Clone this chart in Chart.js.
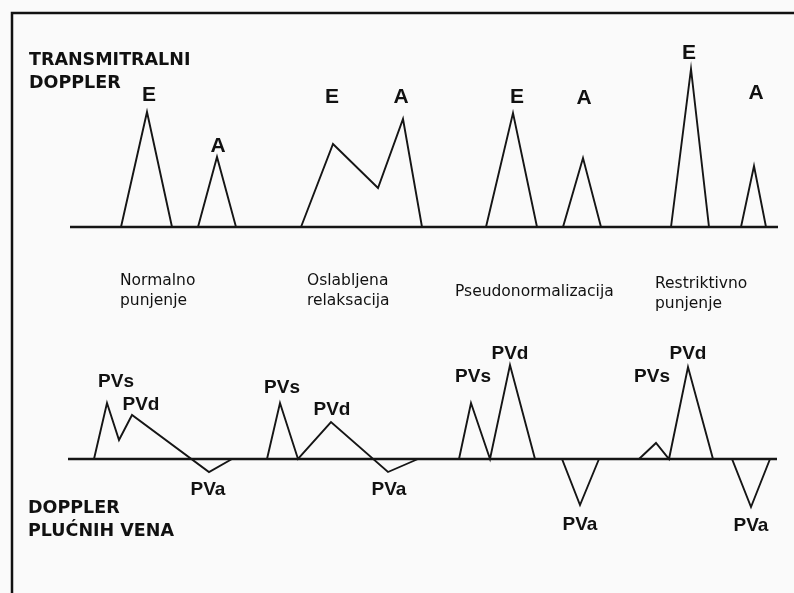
<!DOCTYPE html>
<html>
<head>
<meta charset="utf-8">
<script src="https://cdn.jsdelivr.net/npm/chart.js@4.4.1/dist/chart.umd.min.js"></script>
<style>
  html, body { margin: 0; padding: 0; background: #fafafa; }
  #wrap { position: relative; width: 794px; height: 593px; }
</style>
</head>
<body>
<div id="wrap"><canvas id="doppler" width="794" height="593"></canvas></div>
<script>
// Obrasci punjenja (redom s lijeva na desno)
const patterns = ['Normalno punjenje', 'Oslabljena relaksacija', 'Pseudonormalizacija', 'Restriktivno punjenje'];

// Transmitralni doppler: vrijeme i brzina (relativno na nultu liniju)
const normalMitralT = [121, 147, 172, 198, 217, 236];
const normalMitralV = [0, 115, 0, 0, 70, 0];
const impairedMitralT = [301, 333, 378, 403, 422];
const impairedMitralV = [0, 83, 39, 108, 0];
const pseudoMitralT = [486, 513, 537, 563, 583, 601];
const pseudoMitralV = [0, 114, 0, 0, 69, 0];
const restrictMitralT = [671, 691, 709, 741, 754, 766];
const restrictMitralV = [0, 158, 0, 0, 61, 0];

// Doppler plućnih vena
const normalVeinT = [94, 107, 119, 132, 209, 232];
const normalVeinV = [0, 56, 19, 44, -13, 0];
const impairedVeinT = [267, 280, 298, 331, 388, 418];
const impairedVeinV = [0, 56, 0, 37, -13, 0];
const pseudoVeinT = [459, 471, 490, 510, 535, 562, 580, 599];
const pseudoVeinV = [0, 56, 0, 94, 0, 0, -46, 0];
const restrictVeinT = [639, 656, 669, 688, 713, 732, 751, 770];
const restrictVeinV = [0, 16, 0, 92, 0, 0, -48, 0];

// Nulte linije (početak i kraj)
const mitralBaseT = [70, 778];
const veinBaseT = [68, 777];

// Oznake valova
const mitralLabels = ['E', 'A', 'E', 'A', 'E', 'A', 'E', 'A'];
const mitralLabelT = [149, 218, 332, 401, 517, 584, 689, 756];
const mitralLabelV = [134, 83, 132, 132, 132, 131, 176, 136];
const veinLabels = ['PVs', 'PVd', 'PVa', 'PVs', 'PVd', 'PVa', 'PVs', 'PVd', 'PVa', 'PVs', 'PVd', 'PVa'];
const veinLabelT = [116, 141, 208, 282, 332, 389, 473, 510, 580, 652, 688, 751];
const veinLabelV = [79, 56, -29, 73, 51, -29, 84, 107, -64, 84, 107, -65];

function toPoints(ts, vs) {
    return ts.map((t, i) => ({ x: t, y: vs[i] }));
}

function wave(label, ts, vs, axis) {
    return {
        label: label,
        data: toPoints(ts, vs),
        yAxisID: axis,
        borderColor: '#151515',
        borderWidth: 1.9,
        pointRadius: 0,
        tension: 0,
        fill: false
    };
}

function baseline(ts, axis) {
    return {
        label: 'baseline',
        data: toPoints(ts, ts.map(() => 0)),
        yAxisID: axis,
        borderColor: '#151515',
        borderWidth: 2.6,
        pointRadius: 0,
        fill: false
    };
}

// Okvir, naslovi i oznake
const paperPlugin = {
    id: 'paper',
    beforeDraw(chart) {
        const ctx = chart.ctx;
        ctx.save();
        ctx.fillStyle = '#fafafa';
        ctx.fillRect(0, 0, chart.width, chart.height);
        ctx.strokeStyle = '#111';
        ctx.lineWidth = 2.5;
        ctx.beginPath();
        ctx.moveTo(12, chart.height + 5);
        ctx.lineTo(12, 13);
        ctx.lineTo(chart.width + 5, 13);
        ctx.stroke();
        ctx.restore();
    },
    afterDatasetsDraw(chart) {
        const ctx = chart.ctx;
        const x = chart.scales.x;
        const yTop = chart.scales.yTop;
        const yBot = chart.scales.yBot;
        ctx.save();
        ctx.fillStyle = '#111';

        // naslovi
        ctx.textAlign = 'left';
        ctx.textBaseline = 'alphabetic';
        ctx.font = 'bold 17.5px "DejaVu Sans"';
        ctx.fillText('TRANSMITRALNI', 29, 65);
        ctx.fillText('DOPPLER', 29, 88);
        ctx.fillText('DOPPLER', 28, 513);
        ctx.fillText('PLUĆNIH VENA', 28, 536);

        // obrasci punjenja
        ctx.font = '15.5px "DejaVu Sans"';
        ctx.fillText('Normalno', 120, 285);
        ctx.fillText('punjenje', 120, 305);
        ctx.fillText('Oslabljena', 307, 285);
        ctx.fillText('relaksacija', 307, 305);
        ctx.fillText(patterns[2], 455, 296);
        ctx.fillText('Restriktivno', 655, 288);
        ctx.fillText('punjenje', 655, 308);

        // E / A
        ctx.textAlign = 'center';
        ctx.font = 'bold 21px "Liberation Sans"';
        mitralLabels.forEach((t, i) => {
            ctx.fillText(t, x.getPixelForValue(mitralLabelT[i]), yTop.getPixelForValue(mitralLabelV[i]) + 7.5);
        });

        // PVs / PVd / PVa
        ctx.font = 'bold 19px "Liberation Sans"';
        veinLabels.forEach((t, i) => {
            ctx.fillText(t, x.getPixelForValue(veinLabelT[i]), yBot.getPixelForValue(veinLabelV[i]) + 7);
        });
        ctx.restore();
    }
};

new Chart(document.getElementById('doppler'), {
    type: 'line',
    data: {
        datasets: [
            baseline(mitralBaseT, 'yTop'),
            wave(patterns[0], normalMitralT, normalMitralV, 'yTop'),
            wave(patterns[1], impairedMitralT, impairedMitralV, 'yTop'),
            wave(patterns[2], pseudoMitralT, pseudoMitralV, 'yTop'),
            wave(patterns[3], restrictMitralT, restrictMitralV, 'yTop'),
            baseline(veinBaseT, 'yBot'),
            wave(patterns[0], normalVeinT, normalVeinV, 'yBot'),
            wave(patterns[1], impairedVeinT, impairedVeinV, 'yBot'),
            wave(patterns[2], pseudoVeinT, pseudoVeinV, 'yBot'),
            wave(patterns[3], restrictVeinT, restrictVeinV, 'yBot')
        ]
    },
    options: {
        responsive: false,
        animation: false,
        layout: { padding: 0 },
        plugins: {
            legend: { display: false },
            tooltip: { enabled: false }
        },
        scales: {
            x: { type: 'linear', min: 0, max: 794, display: false },
            yTop: { type: 'linear', min: -366, max: 227, display: false },
            yBot: { type: 'linear', min: -134, max: 459, display: false }
        }
    },
    plugins: [paperPlugin]
});
</script>
</body>
</html>
